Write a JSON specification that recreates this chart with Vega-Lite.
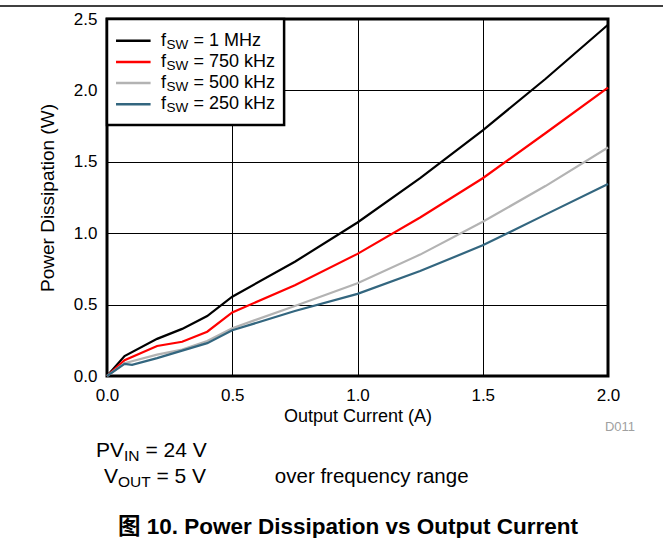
{
  "$schema": "https://vega.github.io/schema/vega-lite/v6.json",
  "width": 501,
  "height": 357,
  "autosize": {"type": "none"},
  "padding": {"left": 107, "top": 19, "right": 55, "bottom": 162},
  "background": "white",
  "config": {
    "font": "Liberation Sans",
    "view": {"stroke": "black", "strokeWidth": 3},
    "axis": {
      "labelFont": "Liberation Sans", "labelFontSize": 17, "labelColor": "black",
      "titleFont": "Liberation Sans", "titleFontSize": 18, "titleFontWeight": "normal", "titleColor": "black",
      "ticks": false, "domain": false, "gridColor": "black", "gridWidth": 1, "gridOpacity": 1,
      "labelFlush": false, "labelOverlap": false
    }
  },
  "datasets": {
    "curves": [
      {"fsw": "1 MHz", "I": 0, "P": 0}, {"fsw": "1 MHz", "I": 0.07, "P": 0.14}, {"fsw": "1 MHz", "I": 0.2, "P": 0.26}, {"fsw": "1 MHz", "I": 0.3, "P": 0.33}, {"fsw": "1 MHz", "I": 0.4, "P": 0.42}, {"fsw": "1 MHz", "I": 0.5, "P": 0.555}, {"fsw": "1 MHz", "I": 0.75, "P": 0.8}, {"fsw": "1 MHz", "I": 1.0, "P": 1.075}, {"fsw": "1 MHz", "I": 1.25, "P": 1.385}, {"fsw": "1 MHz", "I": 1.5, "P": 1.72}, {"fsw": "1 MHz", "I": 1.75, "P": 2.08}, {"fsw": "1 MHz", "I": 2.0, "P": 2.46},
      {"fsw": "750 kHz", "I": 0, "P": 0}, {"fsw": "750 kHz", "I": 0.07, "P": 0.11}, {"fsw": "750 kHz", "I": 0.2, "P": 0.21}, {"fsw": "750 kHz", "I": 0.3, "P": 0.24}, {"fsw": "750 kHz", "I": 0.4, "P": 0.31}, {"fsw": "750 kHz", "I": 0.5, "P": 0.445}, {"fsw": "750 kHz", "I": 0.75, "P": 0.635}, {"fsw": "750 kHz", "I": 1.0, "P": 0.855}, {"fsw": "750 kHz", "I": 1.25, "P": 1.11}, {"fsw": "750 kHz", "I": 1.5, "P": 1.385}, {"fsw": "750 kHz", "I": 1.75, "P": 1.7}, {"fsw": "750 kHz", "I": 2.0, "P": 2.02},
      {"fsw": "500 kHz", "I": 0, "P": 0}, {"fsw": "500 kHz", "I": 0.07, "P": 0.09}, {"fsw": "500 kHz", "I": 0.2, "P": 0.15}, {"fsw": "500 kHz", "I": 0.3, "P": 0.185}, {"fsw": "500 kHz", "I": 0.4, "P": 0.245}, {"fsw": "500 kHz", "I": 0.5, "P": 0.335}, {"fsw": "500 kHz", "I": 0.75, "P": 0.49}, {"fsw": "500 kHz", "I": 1.0, "P": 0.65}, {"fsw": "500 kHz", "I": 1.25, "P": 0.85}, {"fsw": "500 kHz", "I": 1.5, "P": 1.08}, {"fsw": "500 kHz", "I": 1.75, "P": 1.33}, {"fsw": "500 kHz", "I": 2.0, "P": 1.6},
      {"fsw": "250 kHz", "I": 0, "P": 0}, {"fsw": "250 kHz", "I": 0.07, "P": 0.085}, {"fsw": "250 kHz", "I": 0.1, "P": 0.078}, {"fsw": "250 kHz", "I": 0.2, "P": 0.125}, {"fsw": "250 kHz", "I": 0.3, "P": 0.178}, {"fsw": "250 kHz", "I": 0.4, "P": 0.23}, {"fsw": "250 kHz", "I": 0.5, "P": 0.32}, {"fsw": "250 kHz", "I": 0.75, "P": 0.455}, {"fsw": "250 kHz", "I": 1.0, "P": 0.575}, {"fsw": "250 kHz", "I": 1.25, "P": 0.735}, {"fsw": "250 kHz", "I": 1.5, "P": 0.915}, {"fsw": "250 kHz", "I": 1.75, "P": 1.13}, {"fsw": "250 kHz", "I": 2.0, "P": 1.345}
    ],
    "legend": [
      {"fsw": "1 MHz", "label": "= 1 MHz"},
      {"fsw": "750 kHz", "label": "= 750 kHz"},
      {"fsw": "500 kHz", "label": "= 500 kHz"},
      {"fsw": "250 kHz", "label": "= 250 kHz"}
    ],
    "one": [{}]
  },
  "layer": [
    {
      "layer": [
        {
          "data": {"name": "curves"},
          "mark": {"type": "line", "strokeWidth": 2.2},
          "encoding": {
            "x": {"field": "I", "type": "quantitative", "scale": {"domain": [0, 2], "nice": false, "zero": false},
                  "axis": {"values": [0, 0.5, 1, 1.5, 2], "format": ".1f", "labelPadding": 11, "titlePadding": 4, "title": "Output Current (A)"}},
            "y": {"field": "P", "type": "quantitative", "scale": {"domain": [0, 2.5], "nice": false, "zero": false},
                  "axis": {"values": [0, 0.5, 1, 1.5, 2, 2.5], "format": ".1f", "labelPadding": 10, "titlePadding": 16, "titleFontSize": 19, "title": "Power Dissipation (W)"}},
            "color": {"field": "fsw", "type": "nominal",
                      "scale": {"domain": ["1 MHz", "750 kHz", "500 kHz", "250 kHz"], "range": ["#000000", "#ff0000", "#b3b3b3", "#33667f"]},
                      "legend": null},
            "order": {"field": "I", "type": "quantitative"}
          }
        },
        {
          "data": {"name": "one"},
          "mark": {"type": "rect", "fill": "white", "stroke": "black", "strokeWidth": 2.5},
          "encoding": {"x": {"datum": 0}, "x2": {"datum": 0.707}, "y": {"datum": 2.5}, "y2": {"datum": 1.758}}
        },
        {
          "data": {"name": "one"},
          "mark": {"type": "rule", "stroke": "black", "strokeWidth": 1.5},
          "encoding": {"x": {"datum": -0.428}, "x2": {"datum": 2.22}, "y": {"datum": 2.591}}
        },
        {
          "data": {"name": "one"},
          "mark": {"type": "text", "text": "D011", "fontSize": 13, "color": "#a0a0a0", "align": "center", "baseline": "middle"},
          "encoding": {"x": {"datum": 2.048}, "y": {"datum": -0.357}}
        },
        {
          "data": {"name": "one"},
          "mark": {"type": "text", "text": "PV", "fontSize": 21, "color": "black", "align": "left", "baseline": "alphabetic"},
          "encoding": {"x": {"datum": -0.044}, "y": {"datum": -0.567}}
        },
        {
          "data": {"name": "one"},
          "mark": {"type": "text", "text": "IN", "fontSize": 15.5, "color": "black", "align": "left", "baseline": "alphabetic", "dx": 28, "dy": 4},
          "encoding": {"x": {"datum": -0.044}, "y": {"datum": -0.567}}
        },
        {
          "data": {"name": "one"},
          "mark": {"type": "text", "text": "= 24 V", "fontSize": 21, "color": "black", "align": "left", "baseline": "alphabetic", "dx": 49.5},
          "encoding": {"x": {"datum": -0.044}, "y": {"datum": -0.567}}
        },
        {
          "data": {"name": "one"},
          "mark": {"type": "text", "text": "V", "fontSize": 21, "color": "black", "align": "left", "baseline": "alphabetic"},
          "encoding": {"x": {"datum": -0.012}, "y": {"datum": -0.749}}
        },
        {
          "data": {"name": "one"},
          "mark": {"type": "text", "text": "OUT", "fontSize": 15.5, "color": "black", "align": "left", "baseline": "alphabetic", "dx": 14, "dy": 4},
          "encoding": {"x": {"datum": -0.012}, "y": {"datum": -0.749}}
        },
        {
          "data": {"name": "one"},
          "mark": {"type": "text", "text": "= 5 V", "fontSize": 21, "color": "black", "align": "left", "baseline": "alphabetic", "dx": 52.5},
          "encoding": {"x": {"datum": -0.012}, "y": {"datum": -0.749}}
        },
        {
          "data": {"name": "one"},
          "mark": {"type": "text", "text": "over frequency range", "fontSize": 20.5, "color": "black", "align": "left", "baseline": "alphabetic"},
          "encoding": {"x": {"datum": 0.67}, "y": {"datum": -0.749}}
        },
        {
          "data": {"name": "one"},
          "mark": {"type": "text", "text": "图 10. Power Dissipation vs Output Current", "font": "Liberation Sans, Noto Sans CJK SC", "fontSize": 22.5, "fontWeight": "bold", "color": "black", "align": "center", "baseline": "alphabetic"},
          "encoding": {"x": {"datum": 0.962}, "y": {"datum": -1.103}}
        }
      ]
    },
    {
      "data": {"name": "legend"},
      "encoding": {
        "y": {"field": "fsw", "type": "ordinal", "scale": {"type": "point", "domain": ["1 MHz", "750 kHz", "500 kHz", "250 kHz"], "range": [21.7, 85.3], "padding": 0}, "axis": null}
      },
      "layer": [
        {
          "mark": {"type": "rule", "strokeWidth": 2.5},
          "encoding": {
            "x": {"datum": 0.036}, "x2": {"datum": 0.174},
            "color": {"field": "fsw", "type": "nominal",
                      "scale": {"domain": ["1 MHz", "750 kHz", "500 kHz", "250 kHz"], "range": ["#000000", "#ff0000", "#b3b3b3", "#33667f"]},
                      "legend": null}
          }
        },
        {
          "mark": {"type": "text", "text": "f", "fontSize": 18, "color": "black", "align": "left", "baseline": "middle"},
          "encoding": {"x": {"datum": 0.2156}}
        },
        {
          "mark": {"type": "text", "text": "SW", "fontSize": 13.5, "color": "black", "align": "left", "baseline": "middle", "dx": 5.5, "dy": 4},
          "encoding": {"x": {"datum": 0.2156}}
        },
        {
          "mark": {"type": "text", "fontSize": 18, "color": "black", "align": "left", "baseline": "middle", "dx": 32.5},
          "encoding": {"x": {"datum": 0.2156}, "text": {"field": "label"}}
        }
      ]
    }
  ],
  "resolve": {"scale": {"y": "independent"}}
}
